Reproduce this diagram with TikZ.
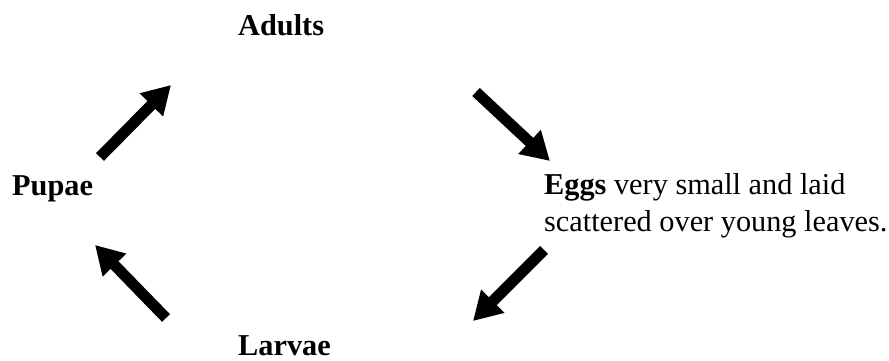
\documentclass[tikz,border=0pt]{standalone}
\usepackage{fontspec}
\setmainfont{Liberation Serif}
\usetikzlibrary{arrows.meta}
\begin{document}
\begin{tikzpicture}[x=1pt,y=1pt,
  lbl/.style={inner sep=0pt,font=\fontsize{30.3}{37}\selectfont},
  fatarrow/.style={line width=11pt,-{Triangle[length=28pt,width=31pt]}}]
\useasboundingbox (0,0) rectangle (889,360);
\node[lbl,anchor=base west] (adults) at (238,325) {\textbf{Adults}};
\node[lbl,anchor=base west] (pupae) at (12,165) {\textbf{Pupae}};
\node[lbl,anchor=base west] (larvae) at (238,5) {\textbf{Larvae}};
\node[lbl,anchor=north west,align=left] (eggs) at (544,187) {\textbf{Eggs} very small and laid\\scattered over young leaves.};
\coordinate (a1s) at (100,203); \coordinate (a1e) at (171,275);
\coordinate (a2s) at (476,268); \coordinate (a2e) at (550,199);
\coordinate (a3s) at (544,110); \coordinate (a3e) at (473,39);
\coordinate (a4s) at (166,42);  \coordinate (a4e) at (95,115);
\draw[fatarrow] (a1s) -- (a1e);
\draw[fatarrow] (a2s) -- (a2e);
\draw[fatarrow] (a3s) -- (a3e);
\draw[fatarrow] (a4s) -- (a4e);
\end{tikzpicture}
\end{document}
